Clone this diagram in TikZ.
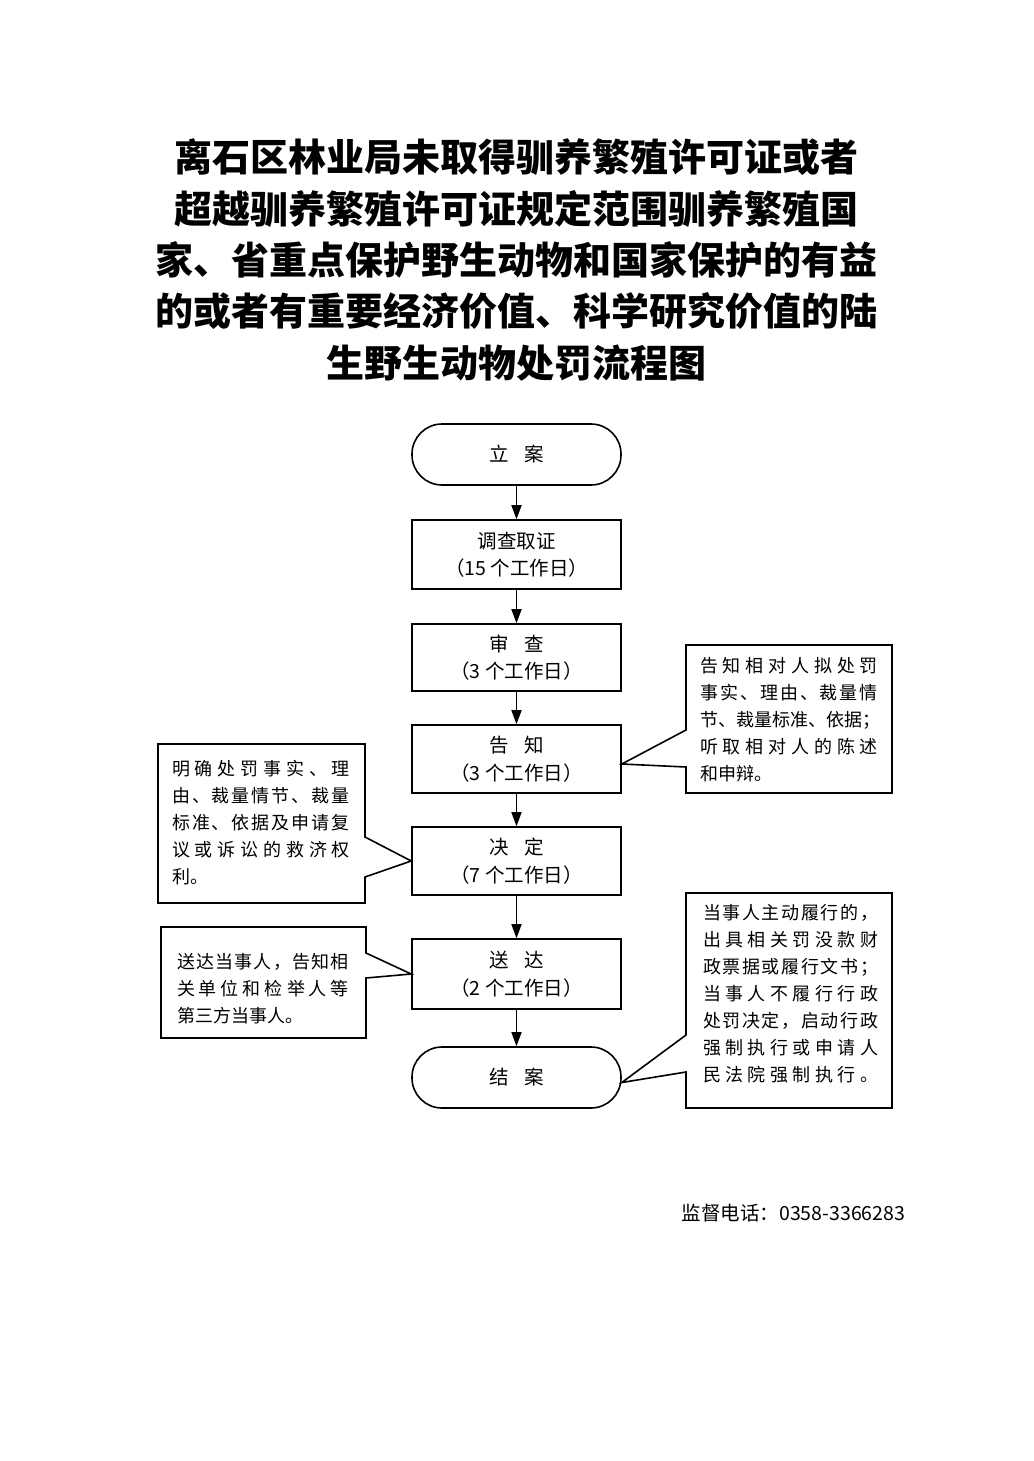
\documentclass[tikz,border=0pt]{standalone}
\usepackage{fontspec}
\setmainfont{Noto Sans CJK SC}
\usetikzlibrary{arrows.meta,calc}
\makeatletter
\def\spr@ad#1{\ifx\relax#1\else#1\hfill\expandafter\spr@ad\fi}
\newcommand\spreadline[2]{\hbox to #1{\spr@ad#2\relax\unskip}}
\makeatother
\begin{document}
\begin{tikzpicture}[x=1pt,y=-1pt,
  box/.style={draw,line width=1.6pt,minimum width=209pt,inner sep=0pt,align=center,font=\fontsize{19.5}{27.5}\selectfont},
  term/.style={box,minimum height=61pt,rounded corners=30pt},
  proc/.style={box,minimum height=68pt},
  flow/.style={line width=1.6pt,-{Triangle[width=10pt,length=14pt]}},
  callout/.style={line width=1.6pt,line join=miter},
  note/.style={inner sep=0pt,align=left,font=\fontsize{18}{27}\selectfont}]
\useasboundingbox[fill=white] (0,0) rectangle (1033,1461);
\node[font=\fontsize{38}{51.3}\selectfont\bfseries,align=center] (title) at (516.5,260)
 {离石区林业局未取得驯养繁殖许可证或者\\超越驯养繁殖许可证规定范围驯养繁殖国\\家、省重点保护野生动物和国家保护的有益\\的或者有重要经济价值、科学研究价值的陆\\生野生动物处罚流程图};

\node[term] (start) at (516.5,454.5) {立\hspace{0.8em}案};
\node[proc,minimum height=69pt] (s1) at (516.5,554.5) {调查取证\\（15 个工作日）};
\node[proc,minimum height=67pt] (s2) at (516.5,657.5) {审\hspace{0.8em}查\\（3 个工作日）};
\node[proc] (s3) at (516.5,759) {告\hspace{0.8em}知\\（3 个工作日）};
\node[proc] (s4) at (516.5,861) {决\hspace{0.8em}定\\（7 个工作日）};
\node[proc,minimum height=70pt] (s5) at (516.5,974) {送\hspace{0.8em}达\\（2 个工作日）};
\node[term] (end) at (516.5,1077.5) {结\hspace{0.8em}案};

\draw[flow] (start) -- (s1);
\draw[flow] (s1) -- (s2);
\draw[flow] (s2) -- (s3);
\draw[flow] (s3) -- (s4);
\draw[flow] (s4) -- (s5);
\draw[flow] (s5) -- (end);

% right callout 1
\coordinate (t1) at ([yshift=-5pt]s3.east);
\draw[callout] (686,645) -- (892,645) -- (892,793) -- (686,793) -- (686,767) -- (t1) -- (686,730) -- cycle;
\node[note] (n1) at (789,720) {\spreadline{178pt}{告知相对人拟处罚}\\\spreadline{178pt}{事实、理由、裁量情}\\\spreadline{178pt}{节、裁量标准、依据；}\\\spreadline{178pt}{听取相对人的陈述}\\\hbox to 178pt{和申辩。\hfill}};

% left callout 1
\coordinate (t2) at (s4.west);
\draw[callout] (158,744) -- (365,744) -- (365,837) -- (t2) -- (365,877) -- (365,903) -- (158,903) -- cycle;
\node[note] (n2) at (261,823) {\spreadline{178pt}{明确处罚事实、理}\\\spreadline{178pt}{由、裁量情节、裁量}\\\spreadline{178pt}{标准、依据及申请复}\\\spreadline{178pt}{议或诉讼的救济权}\\\hbox to 178pt{利。\hfill}};

% left callout 2
\coordinate (t3) at (s5.west);
\draw[callout] (161,927) -- (366,927) -- (366,953) -- (t3) -- (366,978) -- (366,1038) -- (161,1038) -- cycle;
\node[note] (n3) at (263,988.5) {\spreadline{172pt}{送达当事人，告知相}\\\spreadline{172pt}{关单位和检举人等}\\\hbox to 172pt{第三方当事人。\hfill}};

% right callout 2
\coordinate (t4) at ([yshift=-5pt]end.east);
\draw[callout] (686,893) -- (892,893) -- (892,1108) -- (686,1108) -- (686,1072) -- (t4) -- (686,1035) -- cycle;
\node[note] (n4) at (790.5,994) {\spreadline{175pt}{当事人主动履行的，}\\\spreadline{175pt}{出具相关罚没款财}\\\spreadline{175pt}{政票据或履行文书；}\\\spreadline{175pt}{当事人不履行行政}\\\spreadline{175pt}{处罚决定，启动行政}\\\spreadline{175pt}{强制执行或申请人}\\\spreadline{175pt}{民法院强制执行。}};

\node[font=\fontsize{19.5}{22}\selectfont] (phone) at (793.5,1213) {监督电话：0358-3366283};
\end{tikzpicture}
\end{document}
